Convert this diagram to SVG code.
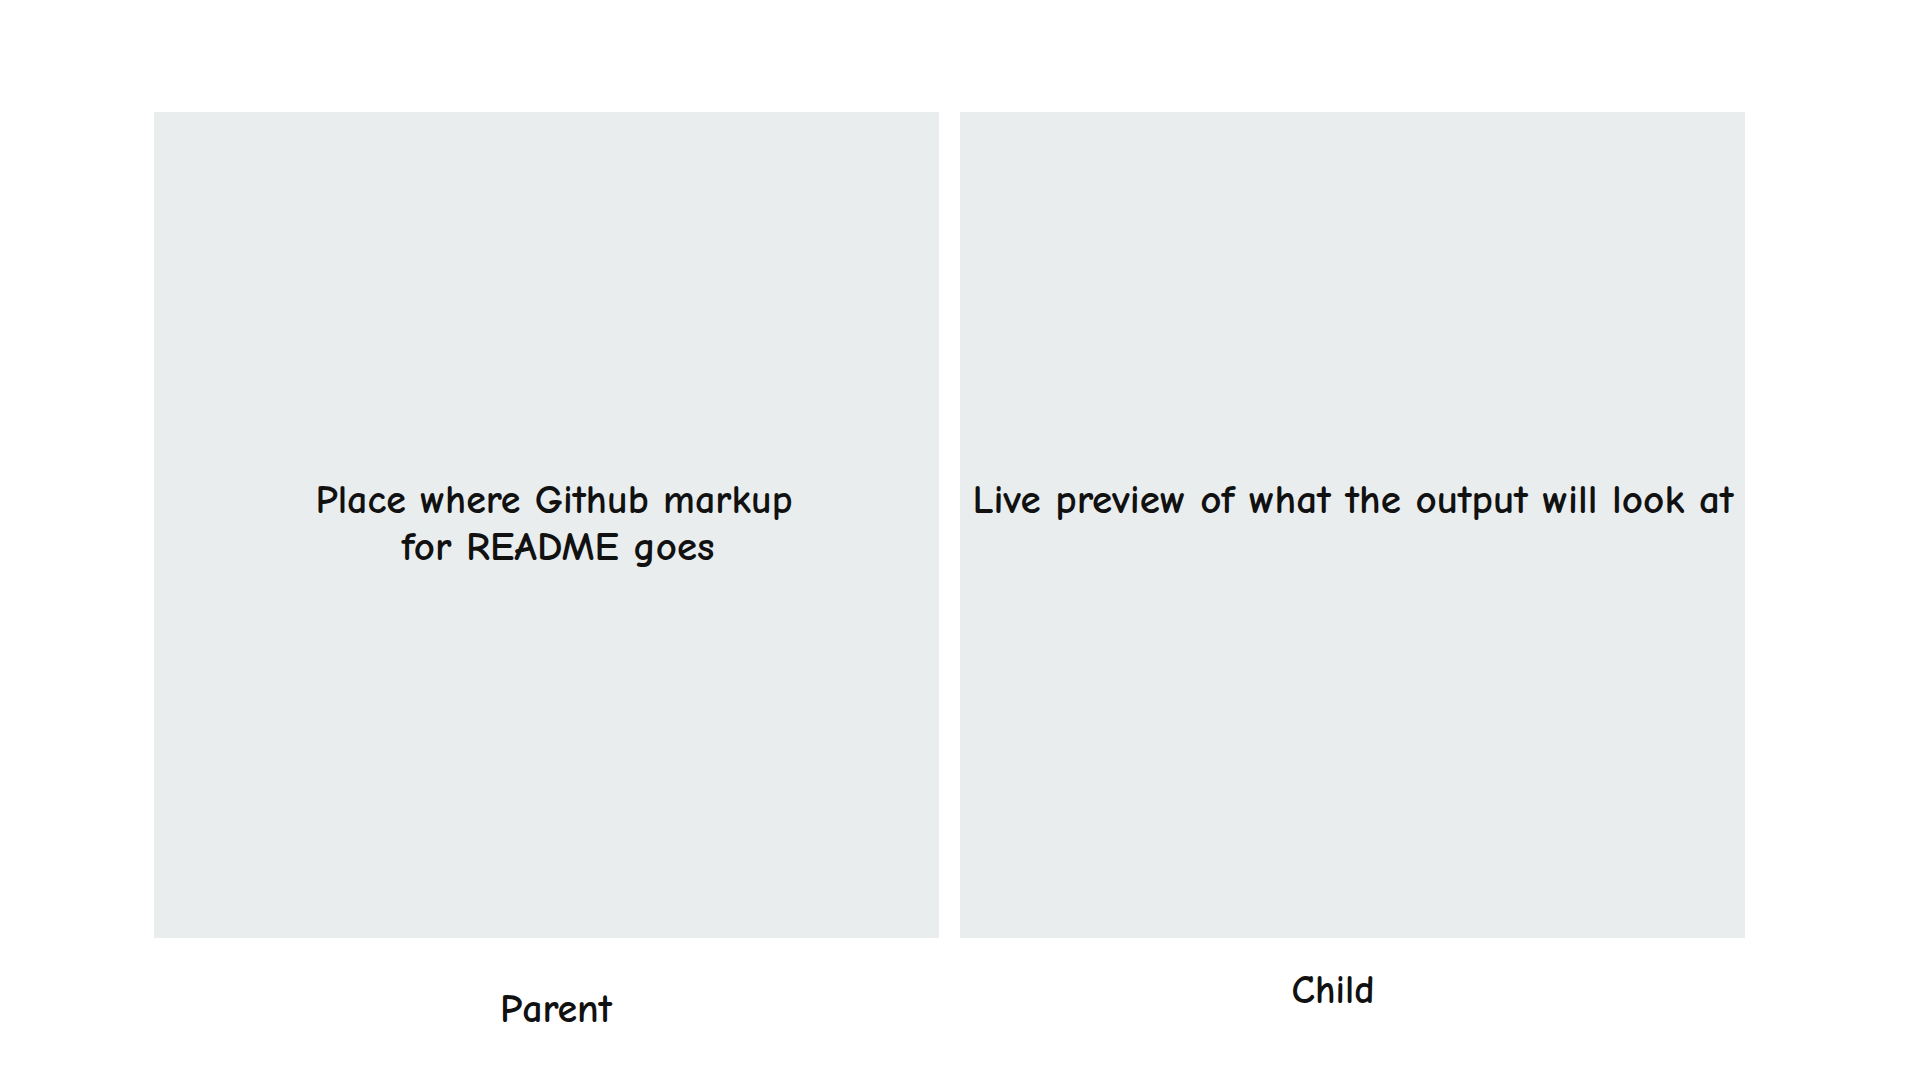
<svg xmlns="http://www.w3.org/2000/svg" width="1920" height="1080" viewBox="0 0 1920 1080">
<style>
.panel{fill:#e9edee;stroke:none}
.t{font-family:"Comic Neue","Liberation Sans",sans-serif;font-size:40px;font-weight:700;fill:#111111;text-anchor:middle}
</style>
<rect width="1920" height="1080" fill="#ffffff"/>
<g id="parent-panel">
<rect class="panel" x="154" y="112" width="785" height="826"/>
<text class="t" x="554" y="513" textLength="477" lengthAdjust="spacingAndGlyphs">Place where Github markup</text>
<text class="t" x="558" y="560" textLength="313" lengthAdjust="spacingAndGlyphs">for README goes</text>
</g>
<g id="child-panel">
<rect class="panel" x="960" y="112" width="785" height="826"/>
<text class="t" x="1353" y="513" textLength="761" lengthAdjust="spacingAndGlyphs">Live preview of what the output will look at</text>
</g>
<g id="parent-label">
<text class="t" x="556" y="1022" textLength="112" lengthAdjust="spacingAndGlyphs">Parent</text>
</g>
<g id="child-label">
<text class="t" x="1333" y="1003" textLength="83" lengthAdjust="spacingAndGlyphs">Child</text>
</g>
<g id="connectors"></g>
</svg>
